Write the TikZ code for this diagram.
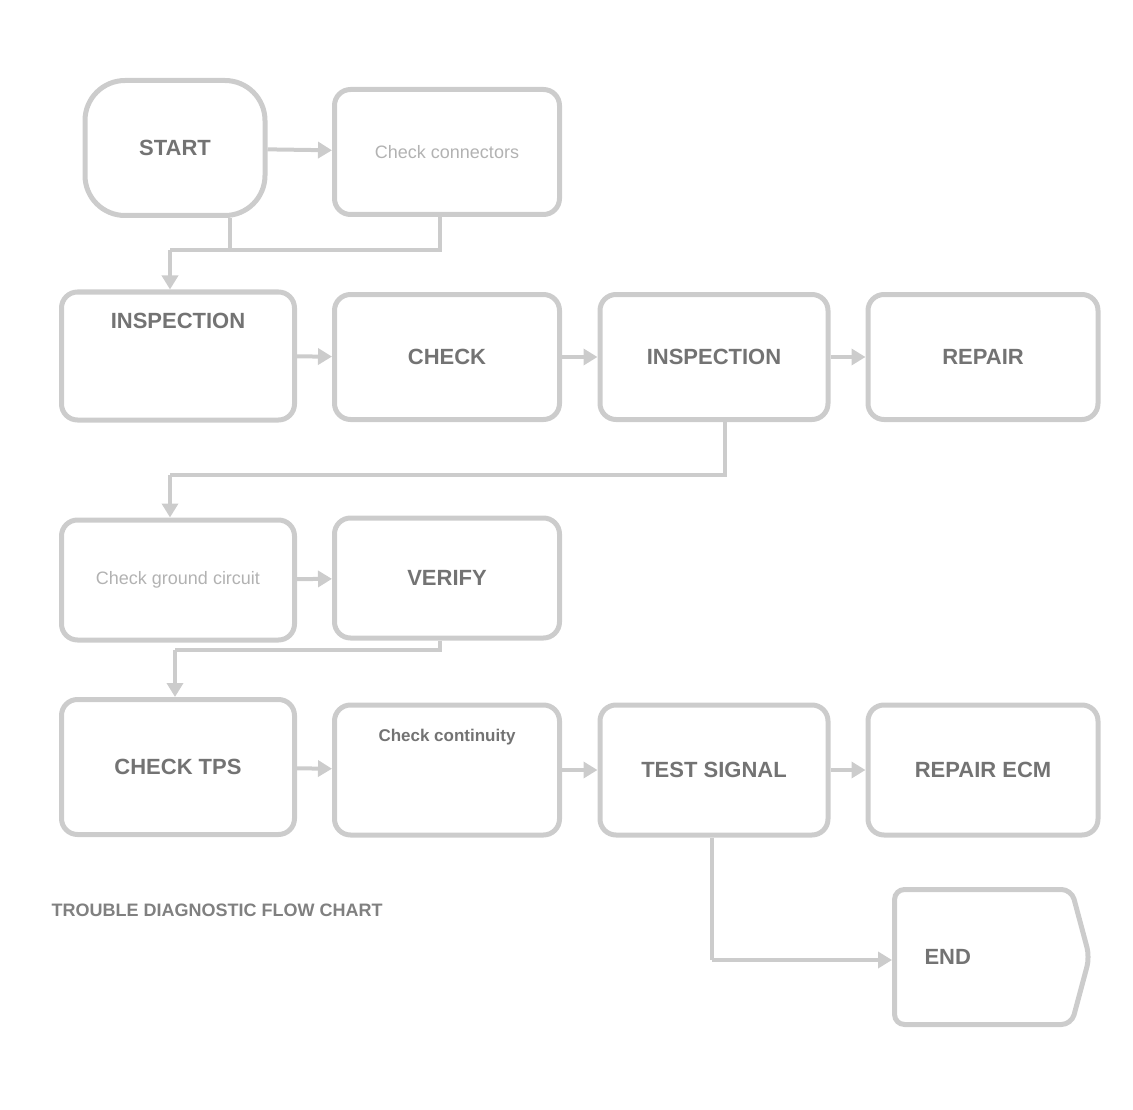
\documentclass[tikz,border=0pt]{standalone}
\usepackage{fontspec}
\setmainfont{Liberation Sans}
\usetikzlibrary{arrows.meta,shapes.symbols}
\tikzset{
  box/.style={draw=black!20, line width=5pt, rounded corners=16pt, inner sep=4pt,
    align=center, text=black!55, font=\fontsize{22}{26}\selectfont\bfseries},
  lighttext/.style={text=black!30, font=\fontsize{18}{22}\selectfont},
  conn/.style={draw=black!20, line width=4pt, -{Triangle[length=14pt,width=16pt]}},
  plain/.style={draw=black!20, line width=4pt},
  note/.style={text=black!50, font=\fontsize{18}{22}\selectfont\bfseries}
}
\begin{document}
\begin{tikzpicture}[x=1pt,y=-1pt]
\useasboundingbox (0,0) rectangle (1133,1110);
% row 1
\node[box, rounded corners=40pt, minimum width=180pt, minimum height=135pt] (A) at (175,148) {START};
\node[box, lighttext, minimum width=225pt, minimum height=125pt] (B) at (447,152) {Check connectors};
% row 2
\node[box, minimum width=233pt, minimum height=128pt, text depth=70pt] (C) at (178,356) {INSPECTION};
\node[box, minimum width=225pt, minimum height=125pt] (D) at (447,357) {CHECK};
\node[box, minimum width=228pt, minimum height=125pt] (E) at (714,357) {INSPECTION};
\node[box, minimum width=230pt, minimum height=125pt] (F) at (983,357) {REPAIR};
% row 3
\node[box, lighttext, minimum width=233pt, minimum height=120pt] (G) at (178,580) {Check ground circuit};
\node[box, minimum width=225pt, minimum height=120pt] (H) at (447,578) {VERIFY};
% row 4
\node[box, minimum width=233pt, minimum height=135pt] (I) at (178,767) {CHECK TPS};
\node[box, minimum width=225pt, minimum height=130pt, text depth=70pt, font=\fontsize{17}{20}\selectfont\bfseries] (J) at (447,770) {Check continuity};
\node[box, minimum width=228pt, minimum height=130pt] (K) at (714,770) {TEST SIGNAL};
\node[box, minimum width=230pt, minimum height=130pt] (L) at (983,770) {REPAIR ECM};
% end
\node[box, signal, signal to=east, signal pointer angle=150, rounded corners=10pt, minimum width=195pt, minimum height=135pt, inner sep=0pt, text width=165pt, align=left] (M) at (983,957) {\hspace*{24pt}END};
% footer
\node[note, anchor=west] (N) at (48,910) {TROUBLE DIAGNOSTIC FLOW CHART};
% connectors
\draw[conn] (A) -- (B);
\coordinate (j1) at (440,250);
\coordinate (j2) at (170,250);
\coordinate (j0) at (230,250);
\draw[plain] (B.south -| j1) -- (j1) -- (j2);
\draw[plain] (A.south -| j0) -- (j0);
\draw[conn] (j2) -- (C.north -| j2);
\draw[conn] (C) -- (D);
\draw[conn] (D) -- (E);
\draw[conn] (E) -- (F);
\coordinate (k1) at (725,475);
\coordinate (k2) at (170,475);
\draw[plain] (E.south -| k1) -- (k1) -- (k2);
\draw[conn] (k2) -- (G.north -| k2);
\draw[conn] (G) -- (H);
\coordinate (m1) at (440,650);
\coordinate (m2) at (175,650);
\draw[plain] (H.south -| m1) -- (m1) -- (m2);
\draw[conn] (m2) -- (I.north -| m2);
\draw[conn] (I) -- (J);
\draw[conn] (J) -- (K);
\draw[conn] (K) -- (L);
\coordinate (p1) at (712,960);
\draw[plain] (K.south -| p1) -- (p1);
\draw[conn] (p1) -- (M.west |- p1);
\end{tikzpicture}
\end{document}
